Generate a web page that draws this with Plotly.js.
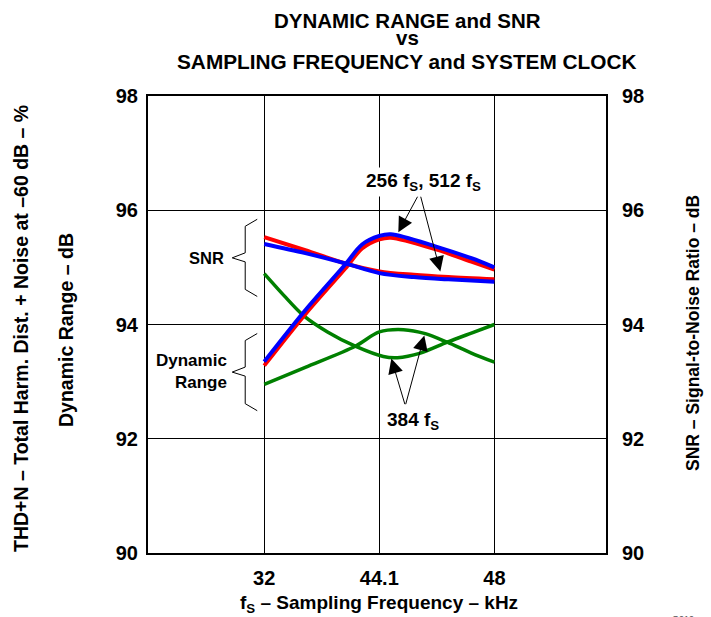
<!DOCTYPE html>
<html>
<head>
<meta charset="utf-8">
<script src="https://cdn.plot.ly/plotly-3.0.1.min.js"></script>
<style>html,body{margin:0;padding:0;background:#fff;}#chart{width:711px;height:617px;}</style>
</head>
<body>
<div id="chart"></div>
<script>
// Tick categories (equally spaced on the axis)
const tickPos = [0, 1, 2];
const tickLabels = ['32', '44.1', '48'];
const yTicks = [90, 92, 94, 96, 98];

// Rising curves (256 fS / 512 fS)
const riseX = [0, 0.357, 0.704, 0.85, 1.0, 1.1, 1.5, 1.8, 2];
const riseBlue = [93.35, 94.25, 95.05, 95.40, 95.55, 95.58, 95.36, 95.16, 95.0];
const riseRed  = [93.28, 94.18, 94.98, 95.33, 95.49, 95.52, 95.31, 95.10, 94.96];

// Falling curves (256 fS / 512 fS)
const fallX = [0, 0.357, 0.704, 1.0, 1.3, 1.6, 2];
const fallBlue = [95.41, 95.25, 95.07, 94.90, 94.83, 94.79, 94.75];
const fallRed  = [95.53, 95.30, 95.07, 94.93, 94.87, 94.83, 94.79];

// 384 fS curves
const greenAX = [0, 0.17, 0.339, 0.55, 0.791, 1.035, 1.157, 1.357, 1.59, 1.8, 2];
const greenA  = [94.89, 94.51, 94.16, 93.87, 93.62, 93.44, 93.42, 93.50, 93.69, 93.85, 94.0];
const greenBX = [0, 0.357, 0.791, 1.0, 1.21, 1.4, 1.59, 1.8, 2];
const greenB  = [92.95, 93.25, 93.62, 93.87, 93.91, 93.84, 93.69, 93.50, 93.34];

const FONT = 'Liberation Sans, Arial, Helvetica, sans-serif';
function ln(x, y, color, w) {
  return {x: x, y: y, type: 'scatter', mode: 'lines', line: {color: color, width: w, shape: 'spline', smoothing: 0.9}, hoverinfo: 'skip', showlegend: false};
}
const data = [
  ln(greenAX, greenA, '#008000', 3.5),
  ln(greenBX, greenB, '#008000', 3.5),
  ln(fallX, fallRed, '#ff0000', 4),
  ln(riseX, riseRed, '#ff0000', 4),
  ln(fallX, fallBlue, '#0000ff', 4),
  ln(riseX, riseBlue, '#0000ff', 4)
];

const W = 711, H = 617, L = 148, R = 105, T = 96, B = 64;
const pw = W - L - R, ph = H - T - B;
function px(x) { return (x - L) / pw; }
function py(y) { return 1 - (y - T) / ph; }

function f(size) { return {family: FONT, size: size, color: '#000', weight: 700}; }
const annos = [];
function txt(text, x, y, opts) {
  annos.push(Object.assign({text: text, x: x, y: y, xref: 'paper', yref: 'paper', showarrow: false,
    font: f(19), xanchor: 'center', yanchor: 'middle'}, opts || {}));
}
// Title lines
txt('DYNAMIC RANGE and SNR', px(407), py(20), {font: f(20.5)});
txt('vs', px(407), py(37.5), {font: f(20.5)});
txt('SAMPLING FREQUENCY and SYSTEM CLOCK', px(407), py(61), {font: f(20.8)});
// Axis titles
txt('f<sub>S</sub> – Sampling Frequency – kHz', px(379), py(604), {font: f(19)});
txt('THD+N – Total Harm. Dist. + Noise at –60 dB – %', px(21), py(329), {textangle: -90, font: f(19.5)});
txt('Dynamic Range – dB', px(66), py(330), {textangle: -90, font: f(19.5)});
txt('SNR – Signal-to-Noise Ratio – dB', px(693), py(333), {textangle: -90, font: f(17.5)});
// Brace labels
txt('SNR', px(226), py(258), {xanchor: 'right', font: f(16.5)});
txt('Dynamic<br>Range', px(229), py(371), {xanchor: 'right', align: 'right', font: f(17)});
// Curve labels with white boxes
txt('256 f<sub>S</sub>, 512 f<sub>S</sub>', px(423), py(182), {bgcolor: '#fff', borderpad: 2, font: f(19)});
txt('384 f<sub>S</sub>', px(413), py(421), {bgcolor: '#fff', borderpad: 3, font: f(19)});
txt('G010', px(683), py(619), {font: {family: FONT, size: 9, color: '#555'}});

// Arrows (data coordinates)
function arrow(tx, ty, hx, hy) {
  annos.push({x: hx, y: hy, ax: tx, ay: ty, xref: 'x', yref: 'y', axref: 'x', ayref: 'y', text: '',
    showarrow: true, arrowhead: 2, arrowsize: 3, arrowwidth: 1, arrowcolor: '#000', standoff: 0, startstandoff: 0});
}
function ix(p) { return (p - 264) / 115; }
function vy(p) { return 98 - (p - 96) / 57; }
arrow(ix(418), vy(195), ix(398), vy(232));
arrow(ix(420), vy(195), ix(440), vy(271));
arrow(ix(405), vy(405), ix(391), vy(358));
arrow(ix(405), vy(405), ix(424), vy(335));

// Braces
function brace(top, bot) {
  const mid = (top + bot) / 2;
  const xs = [257, 245, 232];
  const p = 'M ' + ix(xs[0]) + ',' + vy(top) + ' L ' + ix(xs[1]) + ',' + vy(top + 7) +
    ' L ' + ix(xs[1]) + ',' + vy(mid - 5) + ' L ' + ix(xs[2]) + ',' + vy(mid) +
    ' L ' + ix(xs[1]) + ',' + vy(mid + 4) + ' L ' + ix(xs[1]) + ',' + vy(bot - 7) +
    ' L ' + ix(xs[0]) + ',' + vy(bot);
  return {type: 'path', path: p, xref: 'x', yref: 'y', line: {color: '#000', width: 1}, layer: 'above'};
}
const shapes = [brace(219, 296), brace(333, 410)];

const layout = {
  width: W, height: H,
  margin: {l: L, r: R, t: T, b: B},
  paper_bgcolor: '#fff', plot_bgcolor: '#fff',
  xaxis: {range: [-1.01, 2.97], tickvals: tickPos, ticktext: tickLabels, showgrid: true, gridcolor: '#000', gridwidth: 1,
    zeroline: false, showline: true, mirror: true, linecolor: '#000', linewidth: 2, ticks: '', tickfont: f(20), ticklabelstandoff: 6},
  yaxis: {range: [90, 98], tickvals: yTicks, showgrid: true, gridcolor: '#000', gridwidth: 1,
    zeroline: false, showline: true, mirror: true, linecolor: '#000', linewidth: 2, ticks: '', tickfont: f(20), ticklabelstandoff: 4},
  yaxis2: {range: [90, 98], tickvals: yTicks, overlaying: 'y', side: 'right', showgrid: false, zeroline: false,
    showline: false, ticks: '', tickfont: f(20), ticklabelstandoff: 15},
  annotations: annos,
  shapes: shapes
};
data.push({x: [0], y: [94], yaxis: 'y2', type: 'scatter', mode: 'markers', marker: {opacity: 0}, hoverinfo: 'skip', showlegend: false});
Plotly.newPlot('chart', data, layout, {displayModeBar: false, staticPlot: true});
</script>
</body>
</html>
